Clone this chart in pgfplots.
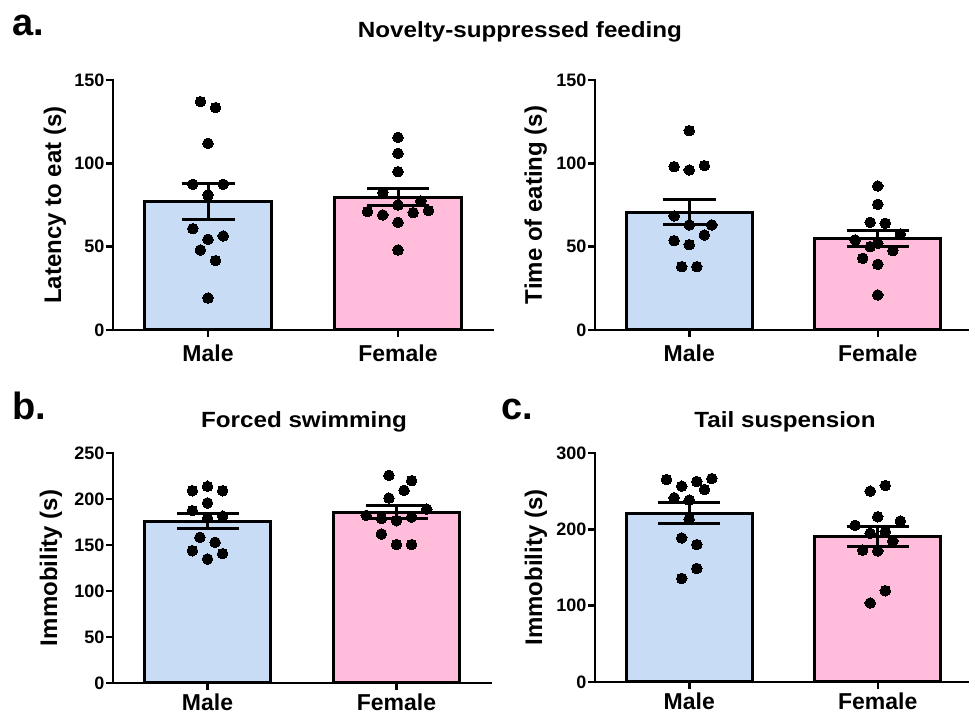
\documentclass[border=0pt]{standalone}
\usepackage{fontspec}
\setmainfont{Liberation Sans}
\newfontfamily\widefont{Liberation Sans}[FakeStretch=1.1]
\usepackage{pgfplots}
\pgfplotsset{compat=1.18}
\definecolor{mblue}{HTML}{C8DDF5}
\definecolor{fpink}{HTML}{FFBDDB}

\pgfplotsset{
  panel/.style={
    scale only axis, anchor=south west,
    axis x line*=bottom, axis y line*=left,
    axis line style={line width=2.5pt, line cap=rect, black},
    tick style={line width=2.5pt, black},
    major tick length=7pt, tick align=outside,
    xmin=-0.5, xmax=1.5, ymin=0,
    xtick={0,1}, xticklabels={Male,Female},
    xticklabel style={font=\fontsize{23}{26}\selectfont\bfseries, inner sep=2pt},
    yticklabel style={font=\fontsize{18}{20}\selectfont\bfseries, inner sep=1.5pt},
    /pgf/number format/assume math mode=true,
    every axis y label/.style={at={(axis description cs:#1,0.5)}, rotate=90, anchor=center,
      font=\fontsize{24}{28}\selectfont\bfseries},
    clip=false,
  },
  barm/.style={ybar, bar width=0.67, bar shift=0pt, fill=mblue, draw=black, line width=3pt,
    error bars/.cd, y dir=both, y explicit,
    error bar style={line width=3pt, black},
    error mark options={rotate=90, line width=3pt, mark size=#1, black}},
  barf/.style={ybar, bar width=0.67, bar shift=0pt, fill=fpink, draw=black, line width=3pt,
    error bars/.cd, y dir=both, y explicit,
    error bar style={line width=3pt, black},
    error mark options={rotate=90, line width=3pt, mark size=#1, black}},
  dots/.style={only marks, mark=*, mark size=5.3pt, black, mark options={fill=black, draw=black, line width=0pt}},
}

\begin{document}
\begin{tikzpicture}
\path[use as bounding box] (0pt,0pt) rectangle (969pt,714pt);

% ---------- a. left: Latency to eat ----------
\begin{axis}[panel=-0.153, at={(113pt,384pt)}, width=380pt, height=250pt,
  ymax=150, ytick={0,50,100,150}, ylabel={Latency to eat (s)},
  xticklabel style={yshift=-6pt}]
\addplot[barm=26.5pt] coordinates {(0,77) +- (0,10.6)};
\addplot[barf=31pt] coordinates {(1,79.5) +- (0,5.1)};
\addplot[dots] table {
x y
-0.04 137
0.04 133.4
0 112
-0.08 87.4
0.08 87.4
0 81
-0.08 60.8
0.08 56.4
0 54.4
-0.04 48
0.04 41.6
0 19.2
};
\addplot[dots] table {
x y
1 115.6
1 106
1 95
0.92 82.4
1.12 77.4
1 75
0.84 71
1.16 71.6
0.92 69
1.08 70.4
1 64.6
1 48
};
\end{axis}

% ---------- a. right: Time of eating ----------
\begin{axis}[panel=-0.157, at={(595pt,384pt)}, width=377pt, height=250pt,
  ymax=150, ytick={0,50,100,150}, ylabel={Time of eating (s)},
  xticklabel style={yshift=-6pt}]
\addplot[barm=26.5pt] coordinates {(0,70.7) +- (0,7.7)};
\addplot[barf=31pt] coordinates {(1,54.8) +- (0,4.8)};
\addplot[dots] table {
x y
0 119.6
-0.08 98
0.08 98.6
0 96
-0.08 68.4
0 63
0.12 63
0.08 57
-0.08 53.6
0 51.2
-0.04 38
0.04 38
};
\addplot[dots] table {
x y
1 86.4
1 75.4
0.96 64.6
1.04 64
1.12 57.6
0.88 54
0.96 50
1 52
1.08 47.6
0.92 43
1 39.4
1 21
};
\end{axis}

% ---------- b. Forced swimming ----------
\begin{axis}[panel=-0.164, at={(113pt,31pt)}, width=378pt, height=230pt,
  ymax=250, ytick={0,50,100,150,200,250}, ylabel={Immobility (s)},
  xticklabel style={yshift=-2pt}]
\addplot[barm=31pt] coordinates {(0,175.9) +- (0,8.1)};
\addplot[barf=31pt] coordinates {(1,185.8) +- (0,7.2)};
\addplot[dots] table {
x y
0 213.8
-0.08 209
0.08 209
0 195.7
-0.08 187.3
0.08 181.2
0 179.3
-0.04 158.3
0.04 152.9
-0.08 143.8
0.08 140.6
0 134.8
};
\addplot[dots] table {
x y
0.96 225.7
1.08 219.9
1.04 209.4
0.96 201
1.16 189
0.84 182.2
0.92 178.6
1 176.4
1.08 180.4
0.92 162
1 150.4
1.08 150.4
};
\end{axis}

% ---------- c. Tail suspension ----------
\begin{axis}[panel=-0.157, at={(595pt,32pt)}, width=377pt, height=229pt,
  ymax=300, ytick={0,100,200,300}, ylabel={Immobility (s)},
  xticklabel style={yshift=-2pt}]
\addplot[barm=31pt] coordinates {(0,221.1) +- (0,13.7)};
\addplot[barf=31pt] coordinates {(1,190.5) +- (0,13)};
\addplot[dots] table {
x y
-0.12 265.2
0.12 266.5
0.04 262.6
-0.04 256.5
0.08 252.2
-0.08 241.3
0 238.3
0 213
-0.04 188.7
0.04 180
0.04 148.7
-0.04 135.7
};
\addplot[dots] table {
x y
1.04 257.4
0.96 250
1 216.5
1.12 210.9
0.88 205.2
0.96 194.8
1.04 197
1.08 184.8
0.92 172.6
1 171.7
1.04 119.6
0.96 103.5
};
\end{axis}

% ---------- titles and panel letters ----------
\node[anchor=base, font={\widefont\fontsize{22}{26}\selectfont\bfseries}] at (520pt,676pt) {Novelty-suppressed feeding};
\node[anchor=base, font={\widefont\fontsize{22}{26}\selectfont\bfseries}] at (304pt,286pt) {Forced swimming};
\node[anchor=base, font={\widefont\fontsize{22}{26}\selectfont\bfseries}] at (785pt,286pt) {Tail suspension};
\node[anchor=base west, inner sep=0pt, font={\fontsize{38}{42}\selectfont\bfseries}] at (12pt,678pt) {a.};
\node[anchor=base west, inner sep=0pt, font={\fontsize{38}{42}\selectfont\bfseries}] at (12pt,294pt) {b.};
\node[anchor=base west, inner sep=0pt, font={\fontsize{38}{42}\selectfont\bfseries}] at (501pt,294pt) {c.};
\end{tikzpicture}
\end{document}
